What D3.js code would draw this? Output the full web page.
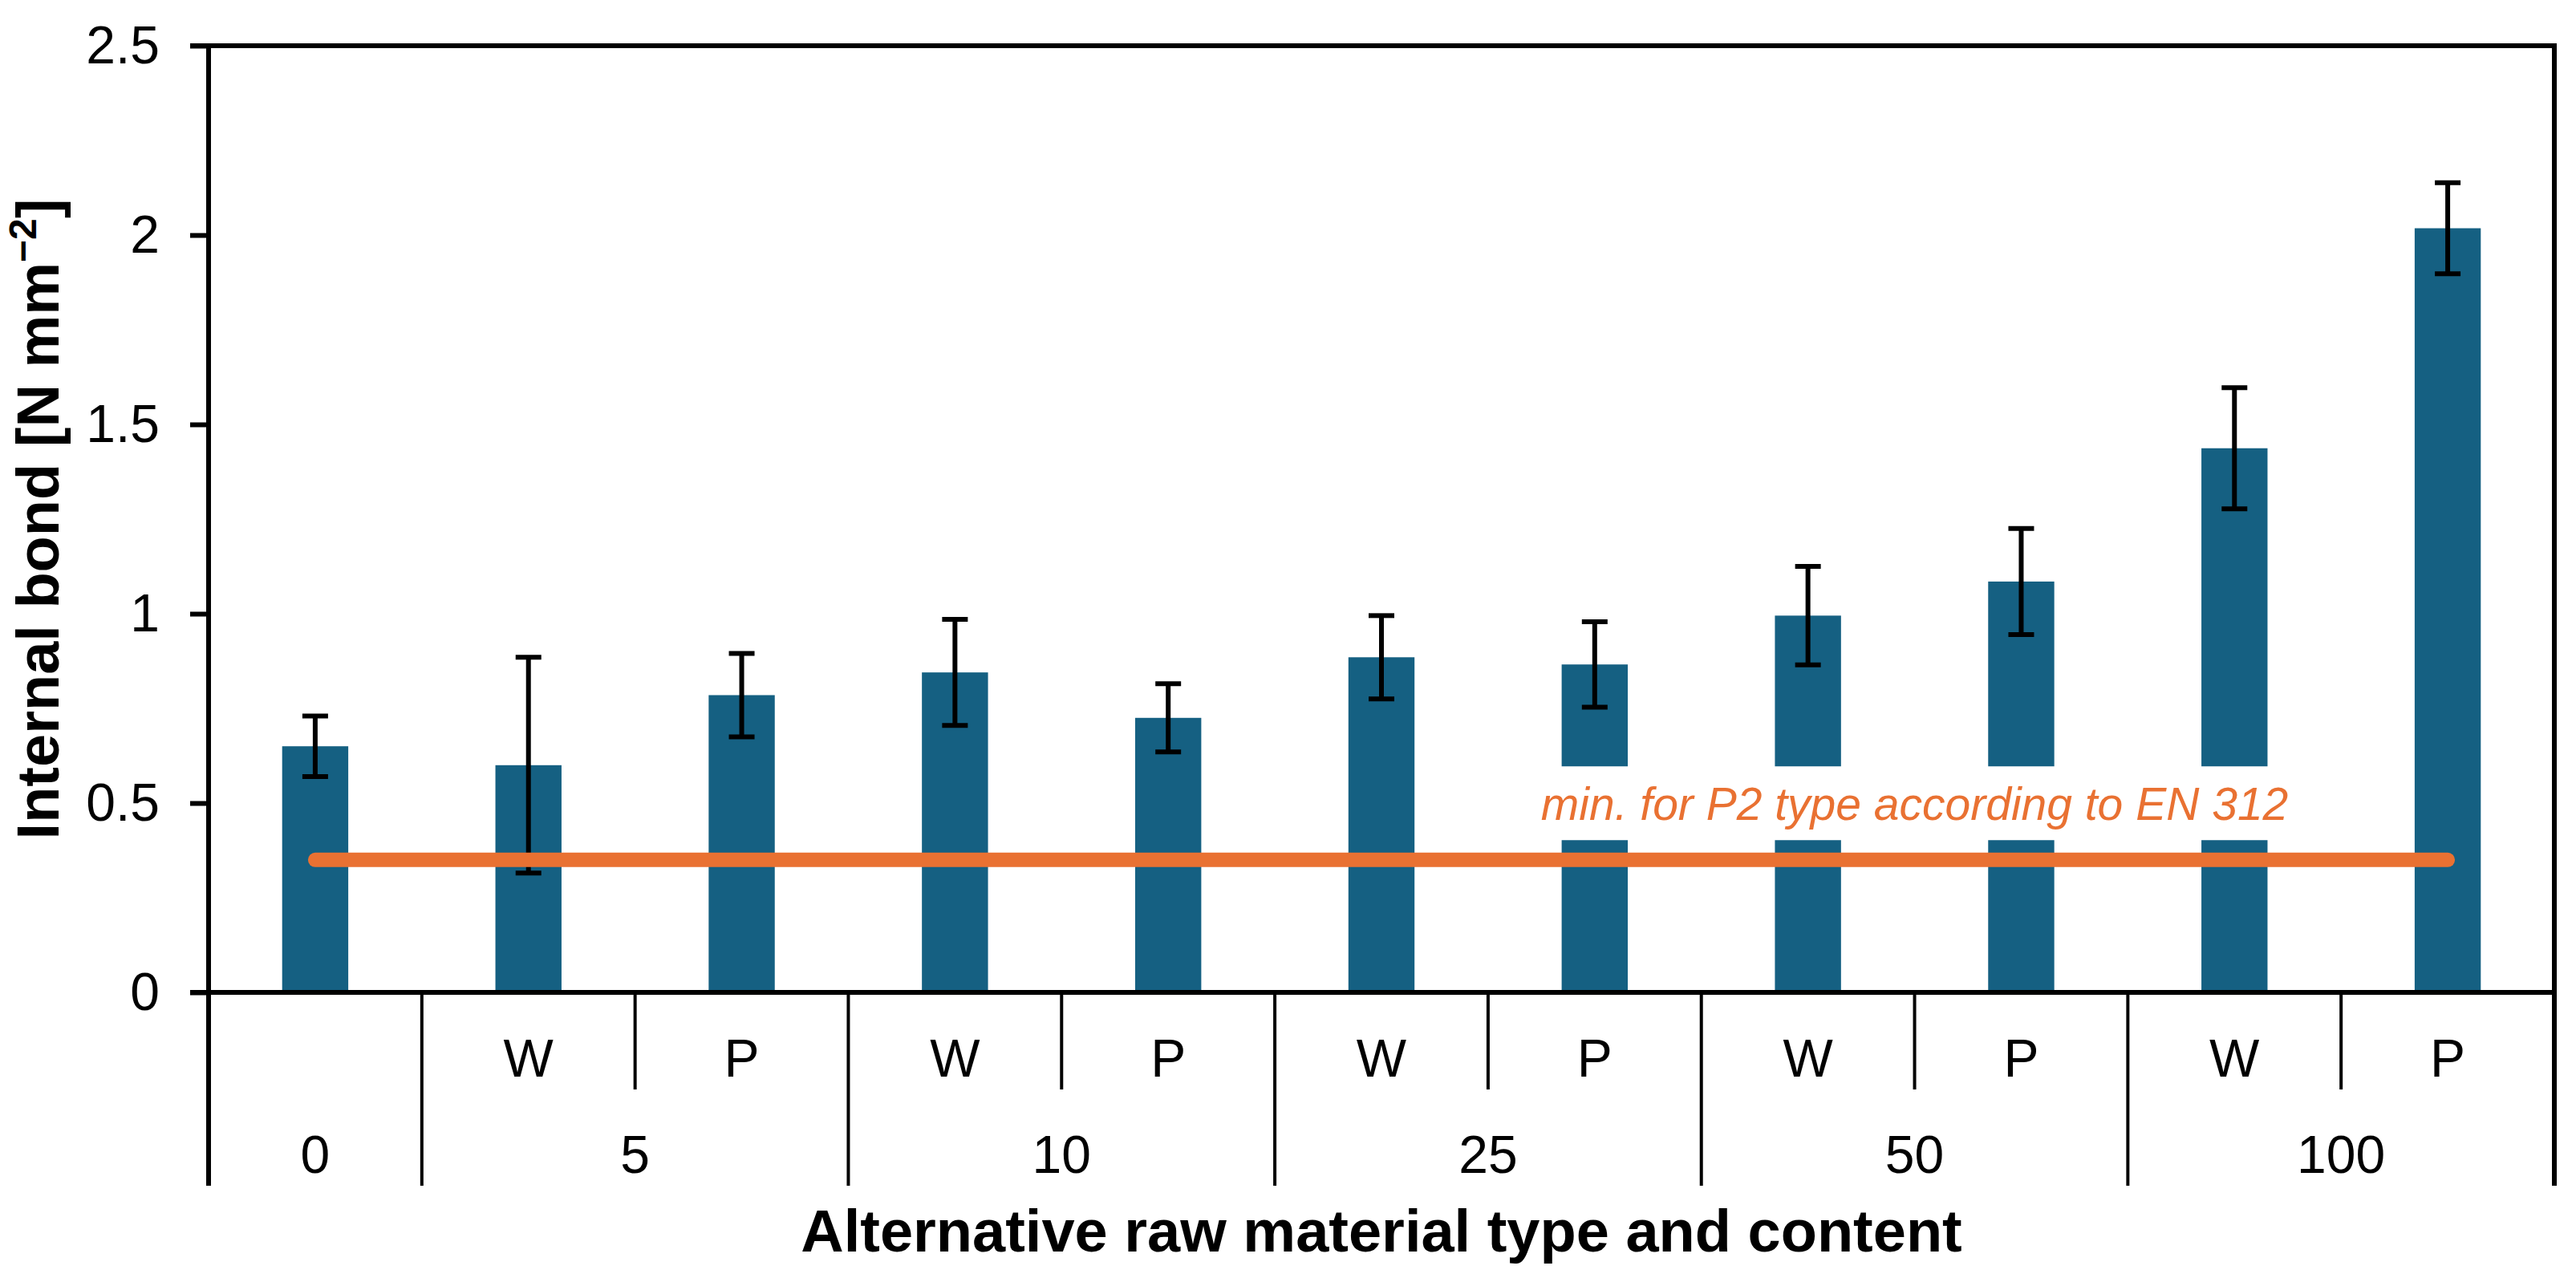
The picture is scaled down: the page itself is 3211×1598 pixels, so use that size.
<!DOCTYPE html>
<html>
<head>
<meta charset="utf-8">
<script src="https://cdn.jsdelivr.net/npm/d3@7"></script>
<style>
  body { margin: 0; background: #fff; }
  text { font-family: "Liberation Sans", Arial, sans-serif; }
</style>
</head>
<body>
<div id="chart"></div>
<script>
// data
var groups = ["0", "5", "10", "25", "50", "100"];
var groupSpans = [1, 2, 2, 2, 2, 2];
var types = ["", "W", "P", "W", "P", "W", "P", "W", "P", "W", "P"];
var means = [0.65, 0.60, 0.785, 0.845, 0.725, 0.885, 0.866, 0.995, 1.085, 1.437, 2.018];
var errors = [0.08, 0.285, 0.11, 0.14, 0.09, 0.11, 0.113, 0.13, 0.14, 0.16, 0.12];
var yTicks = [0, 0.5, 1, 1.5, 2, 2.5];
var yTickLabels = ["0", "0.5", "1", "1.5", "2", "2.5"];
var minValue = 0.35;
var minLabel = "min. for P2 type according to EN 312";
var minLabelAt = 0.455;
var xTitle = "Alternative raw material type and content";

var width = 3211, height = 1598;
var plotLeft = 260, plotRight = 3184, plotTop = 57, plotBottom = 1237;
var barColor = "#156082", lineColor = "#E97132";

var svg = d3.select("#chart").append("svg")
  .attr("width", width)
  .attr("height", height);

var x = d3.scaleBand()
  .domain(d3.range(means.length))
  .range([plotLeft, plotRight])
  .padding(0);

var y = d3.scaleLinear()
  .domain([0, 2.5])
  .range([plotBottom, plotTop]);

var step = x.step();
var barWidth = step * 0.31;

// bars
svg.selectAll("rect.bar")
  .data(means)
  .enter()
  .append("rect")
  .attr("class", "bar")
  .attr("x", function (d, i) { return x(i) + step / 2 - barWidth / 2; })
  .attr("y", function (d) { return y(d); })
  .attr("width", barWidth)
  .attr("height", function (d) { return y(0) - y(d); })
  .attr("fill", barColor);

// error bars
var err = svg.selectAll("g.err")
  .data(means)
  .enter()
  .append("g")
  .attr("class", "err")
  .attr("stroke", "#000")
  .attr("stroke-width", 6);

err.append("line")
  .attr("x1", function (d, i) { return x(i) + step / 2; })
  .attr("x2", function (d, i) { return x(i) + step / 2; })
  .attr("y1", function (d, i) { return y(d + errors[i]); })
  .attr("y2", function (d, i) { return y(d - errors[i]); });

[1, -1].forEach(function (sign) {
  err.append("line")
    .attr("x1", function (d, i) { return x(i) + step / 2 - 16; })
    .attr("x2", function (d, i) { return x(i) + step / 2 + 16; })
    .attr("y1", function (d, i) { return y(d + sign * errors[i]); })
    .attr("y2", function (d, i) { return y(d + sign * errors[i]); });
});

// annotation with white background
var labelX = x(8);
var labelBox = svg.append("rect").attr("fill", "#fff");
var label = svg.append("text")
  .attr("x", labelX)
  .attr("y", y(minLabelAt))
  .attr("text-anchor", "middle")
  .attr("font-size", "57px")
  .attr("font-style", "italic")
  .attr("fill", lineColor)
  .text(minLabel);
var bb = label.node().getBBox();
labelBox
  .attr("x", bb.x - 40)
  .attr("width", bb.width + 80)
  .attr("y", y(minLabelAt) - 67)
  .attr("height", 92);

// minimum requirement line
svg.append("line")
  .attr("x1", x(0) + step / 2)
  .attr("x2", x(means.length - 1) + step / 2)
  .attr("y1", y(minValue))
  .attr("y2", y(minValue))
  .attr("stroke", lineColor)
  .attr("stroke-width", 18)
  .attr("stroke-linecap", "round");

// y axis
var yAxis = d3.axisLeft(y)
  .tickValues(yTicks)
  .tickFormat(function (d, i) { return yTickLabels[i]; })
  .tickSize(23)
  .tickPadding(38);

var gy = svg.append("g")
  .attr("transform", "translate(" + plotLeft + ",0)")
  .call(yAxis);
gy.select(".domain").remove();
gy.selectAll(".tick line").attr("stroke", "#000").attr("stroke-width", 6);
gy.selectAll(".tick text")
  .attr("font-family", "'Liberation Sans', Arial, sans-serif")
  .attr("font-size", "66px")
  .attr("fill", "#000");

// plot frame
var frame = svg.append("g").attr("stroke", "#000").attr("stroke-width", 6).attr("fill", "none");
frame.append("line").attr("x1", plotLeft - 23).attr("x2", plotRight + 3).attr("y1", y(2.5)).attr("y2", y(2.5));
frame.append("line").attr("x1", plotLeft - 23).attr("x2", plotRight + 3).attr("y1", y(0)).attr("y2", y(0));
frame.append("line").attr("x1", plotLeft).attr("x2", plotLeft).attr("y1", y(2.5) - 3).attr("y2", 1478);
frame.append("line").attr("x1", plotRight).attr("x2", plotRight).attr("y1", y(2.5) - 3).attr("y2", 1478);

// category separators
var starts = [];
var acc = 0;
groupSpans.forEach(function (s) { starts.push(acc); acc += s; });

var sep = svg.append("g").attr("stroke", "#000").attr("stroke-width", 4);
starts.slice(1).forEach(function (s) {
  sep.append("line").attr("x1", x(s)).attr("x2", x(s)).attr("y1", y(0)).attr("y2", 1478);
});
types.forEach(function (t, i) {
  if (t === "P") {
    sep.append("line").attr("x1", x(i)).attr("x2", x(i)).attr("y1", y(0)).attr("y2", 1358);
  }
});

// category labels
svg.selectAll("text.type")
  .data(types)
  .enter()
  .append("text")
  .attr("class", "type")
  .attr("x", function (d, i) { return x(i) + step / 2; })
  .attr("y", 1342)
  .attr("text-anchor", "middle")
  .attr("font-size", "66px")
  .attr("fill", "#000")
  .text(function (d) { return d; });

svg.selectAll("text.group")
  .data(groups)
  .enter()
  .append("text")
  .attr("class", "group")
  .attr("x", function (d, i) { return x(starts[i]) + groupSpans[i] * step / 2; })
  .attr("y", 1462)
  .attr("text-anchor", "middle")
  .attr("font-size", "66px")
  .attr("fill", "#000")
  .text(function (d) { return d; });

// axis titles
svg.append("text")
  .attr("x", (plotLeft + plotRight) / 2)
  .attr("y", 1560)
  .attr("text-anchor", "middle")
  .attr("font-size", "74px")
  .attr("font-weight", "bold")
  .attr("fill", "#000")
  .text(xTitle);

var yt = svg.append("text")
  .attr("transform", "translate(73," + (plotTop + plotBottom) / 2 + ") rotate(-90)")
  .attr("text-anchor", "middle")
  .attr("font-size", "74px")
  .attr("font-weight", "bold")
  .attr("fill", "#000");
yt.append("tspan").text("Internal bond [N mm");
yt.append("tspan").attr("font-size", "48px").attr("dy", -28).text("\u22122");
yt.append("tspan").attr("dy", 28).text("]");
</script>
</body>
</html>
